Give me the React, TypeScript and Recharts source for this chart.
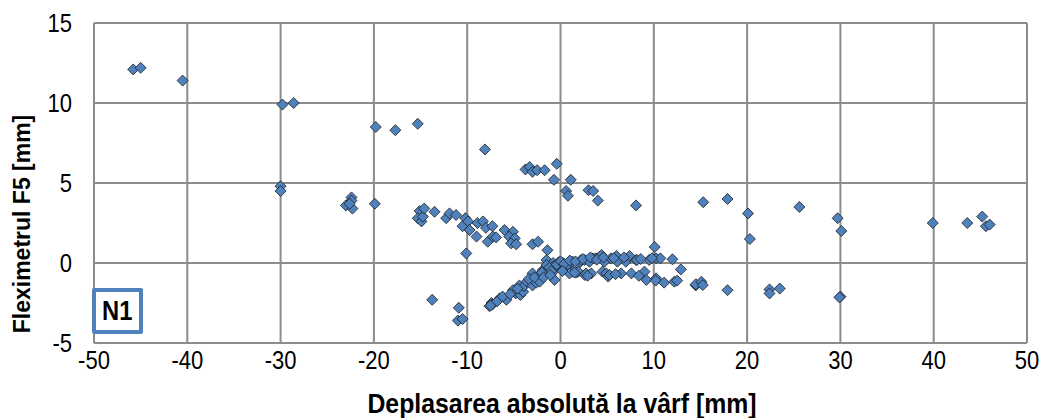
import { ScatterChart, Scatter, XAxis, YAxis, CartesianGrid } from 'recharts'

// Deplasarea absolută la vârf [mm]
const displacement = [
  -45.8, -45.0, -40.5, -29.8, -28.6, -19.8, -17.7, -15.3, -8.1, -3.75, -3.3, -3.0, -2.5, -1.7, -0.4, -0.7, 1.1, 0.6, 0.8,
  3.0, 3.5, 4.0, 8.1, 15.3, 17.9, 20.1, 20.3, 25.6, 29.7, 30.1, 39.9, 43.6, 45.2, 45.6, 46.0,
  -30.0, -30.0, -22.4, -22.4, -23.0, -22.3, -22.6, -19.9, -15.1, -15.3, -14.9, -14.75, -14.6, -13.5, -12.25, -11.9, -11.2,
  -10.5, -10.2, -9.9, -9.75, -9.0, -8.9, -8.3, -8.0, -7.8, -7.3, -7.25, -6.9, -6.0, -5.1, -5.5, -4.9, -5.3, -4.75, -3.0,
  -2.4, -1.4, -10.1, -1.5, -0.8, -0.2,
  -13.75, -10.9, -11.0, -10.5, -7.4, -7.6, -7.3, -6.5, -5.8, -5.1, -4.8, -4.4, -4.3, -4.0, -3.9, -3.6, -3.0, -3.0, -2.6,
  -2.25, -2.25, -1.9, -1.5, -0.64, -0.6, -0.8, -0.1, 0.6, 1.3,
  0.25, 0.8, 1.3, 2.0, 2.2, 2.6, 3.1, 3.5, 3.8, 4.2, 4.4, 4.7, 5.4, 6.0, 6.1, 7.0, 7.4, 8.1, 8.2, 9.5, 10.1, 10.25, 10.7,
  12.0, 12.9,
  0.96, 1.7, 1.9, 2.6, 2.75, 3.3, 4.5, 4.9, 5.1, 5.25, 6.5, 7.6, 9.0, 9.2, 10.25, 10.2, 11.1, 12.2, 12.5, 14.5, 14.5, 15.1,
  15.25, 17.9, 22.4, 22.4, 23.5, 30.0, 29.9,
  -7.5, -6.8, -6.2, -5.4, -4.6, -3.4, -2.8, -2.0, -1.2, -1.0, -0.4, 0.0, 0.4, 1.0, 1.6, 2.4, 3.2, 3.9, 4.6, 5.7, 6.8,
  8.6, 9.8, -1.8, -1.1, 0.2, 1.5, 2.9, 5.9, 8.4,
]

// Fleximetrul F5 [mm]
const flexi = [
  12.1, 12.2, 11.4, 9.9, 10.0, 8.5, 8.3, 8.7, 7.1, 5.85, 6.0, 5.7, 5.8, 5.8, 6.2, 5.2, 5.2, 4.5, 4.2,
  4.55, 4.5, 3.9, 3.6, 3.8, 4.0, 3.1, 1.5, 3.5, 2.8, 2.0, 2.5, 2.5, 2.9, 2.3, 2.4,
  4.8, 4.5, 4.1, 3.9, 3.6, 3.4, 3.7, 3.7, 3.25, 2.8, 2.6, 2.9, 3.4, 3.2, 2.8, 3.1, 3.0,
  2.3, 2.8, 2.6, 2.06, 1.65, 2.5, 2.6, 2.2, 1.33, 2.3, 1.65, 1.6, 2.06, 1.95, 1.65, 1.54, 1.23, 1.17, 1.17,
  1.33, 0.8, 0.6, 0.19, 0.0, 0.05,
  -2.3, -2.8, -3.6, -3.5, -2.5, -2.7, -2.6, -2.2, -2.3, -1.7, -1.9, -1.4, -2.0, -1.8, -1.44, -1.17, -0.65, -1.4, -1.23,
  -0.75, -1.17, -0.44, -0.13, -1.06, -0.44, -0.23, -0.13, -0.23, -0.54,
  0.0, -0.1, 0.08, 0.0, 0.19, 0.19, 0.08, 0.29, 0.29, 0.4, 0.5, 0.08, 0.29, 0.44, 0.08, 0.08, 0.44, 0.19, 0.19, 0.19, 1.0,
  0.29, 0.29, 0.23, -0.4,
  -0.65, -0.6, -0.54, -0.75, -0.65, -0.65, -0.54, -0.65, -0.85, -0.75, -0.65, -0.65, -0.54, -1.06, -0.96, -1.1, -1.23,
  -1.17, -1.1, -1.4, -1.33, -1.17, -1.38, -1.7, -1.65, -1.9, -1.6, -2.1, -2.15,
  -2.65, -2.4, -2.1, -1.95, -1.6, -1.0, -0.9, -0.6, -0.3, -0.5, -0.1, 0.1, -0.05, 0.15, 0.1, 0.25, 0.35, 0.2, 0.35, 0.3,
  0.35, 0.25, 0.3, -0.9, -0.75, -0.5, -0.6, -0.8, -0.7, -0.8,
]

const xTicks = [-50, -40, -30, -20, -10, 0, 10, 20, 30, 40, 50]
const yTicks = [-5, 0, 5, 10, 15]

const data = displacement.map((x, i) => ({ x, y: flexi[i] }))

const FONT = '"Liberation Sans", Arial, sans-serif'
const GRID = '#8c8c8c'
// the original uses a condensed face, squeeze horizontally
const SQUEEZE = 0.88

function Diamond(props: any) {
  const { cx, cy } = props
  const r = 5.5
  return (
    <polygon
      points={`${cx},${cy - r} ${cx + r},${cy} ${cx},${cy + r} ${cx - r},${cy}`}
      fill="#4f81bd"
      stroke="#1c1c1c"
      strokeWidth={0.8}
    />
  )
}

function XTick({ x, y, payload }: any) {
  return (
    <g transform={`translate(${x},${y})`}>
      <text transform={`scale(${SQUEEZE},1)`} textAnchor="middle" dy="0.72em" fontFamily={FONT} fontSize={25} fill="#000">
        {payload.value}
      </text>
    </g>
  )
}

function YTick({ x, y, payload }: any) {
  return (
    <g transform={`translate(${x},${y})`}>
      <text transform={`scale(${SQUEEZE},1)`} textAnchor="end" dy="0.36em" fontFamily={FONT} fontSize={25} fill="#000">
        {payload.value}
      </text>
    </g>
  )
}

const xTitle = () => (
  <g transform="translate(562,413)">
    <text transform="scale(0.92,1)" textAnchor="middle" fontFamily={FONT} fontSize={27} fontWeight="bold" fill="#000">
      Deplasarea absolută la vârf [mm]
    </text>
  </g>
)

const yTitle = () => (
  <text
    x={30} y={224} transform="rotate(-90 30 224)" textAnchor="middle"
    fontFamily={FONT} fontSize={23} fontWeight="bold" fill="#000"
  >
    Fleximetrul F5 [mm]
  </text>
)

export default function App() {
  return (
    <div style={{ position: 'absolute', left: 0, top: 0, width: 1042, height: 418, background: '#fff' }}>
      <ScatterChart width={1042} height={418} margin={{ top: 23, right: 15, bottom: 0, left: 0 }}>
        <CartesianGrid stroke={GRID} strokeWidth={2} />
        <XAxis
          type="number" dataKey="x" domain={[-50, 50]} ticks={xTicks} interval={0}
          height={75} tickLine={false} axisLine={{ stroke: GRID, strokeWidth: 2 }}
          tick={<XTick />}
          label={xTitle}
        />
        <YAxis
          type="number" dataKey="y" domain={[-5, 15]} ticks={yTicks} interval={0}
          width={94} tickLine={false} tickMargin={16} axisLine={{ stroke: GRID, strokeWidth: 2 }}
          tick={<YTick />}
          label={yTitle}
        />
        <Scatter data={data} shape={Diamond} isAnimationActive={false} />
      </ScatterChart>
      <div
        style={{
          position: 'absolute', left: 92, top: 288, width: 43, height: 38,
          border: '4px solid #4f81bd', borderRadius: 2, background: '#fff',
          display: 'flex', alignItems: 'center', justifyContent: 'center',
          fontFamily: FONT, fontWeight: 'bold', fontSize: 27, color: '#000',
        }}
      >
        <span style={{ display: 'inline-block', transform: `scaleX(${SQUEEZE})` }}>N1</span>
      </div>
    </div>
  )
}
